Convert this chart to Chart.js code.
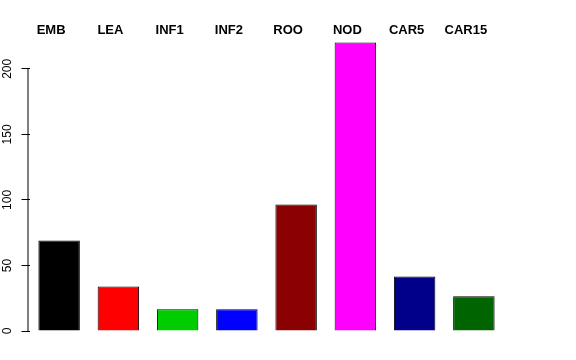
<!DOCTYPE html>
<html>
<head>
<meta charset="utf-8">
<script src="https://cdn.jsdelivr.net/npm/chart.js@4"></script>
<style>
    html, body { margin: 0; padding: 0; background: #fff; }
    #wrap { width: 576px; height: 360px; }
</style>
</head>
<body>
<div id="wrap"><canvas id="barChart"></canvas></div>
<script>
const categories = ["EMB", "LEA", "INF1", "INF2", "ROO", "NOD", "CAR5", "CAR15"];
const values = [69, 34, 16.5, 16.5, 96.5, 220, 41.5, 26.5];
const barColors = ["#000000", "#ff0000", "#00cd00", "#0000ff", "#8b0000", "#ff00ff", "#00008b", "#006400"];
const yTicks = [0, 50, 100, 150, 200];

// R style axis line: only from first to last tick
const axisLine = {
    id: "axisLine",
    afterDraw(chart) {
        const y = chart.scales.y;
        const ctx = chart.ctx;
        ctx.save();
        ctx.strokeStyle = "#000";
        ctx.lineWidth = 1;
        ctx.beginPath();
        ctx.moveTo(28, y.getPixelForValue(yTicks[0]));
        ctx.lineTo(28, y.getPixelForValue(yTicks[yTicks.length - 1]));
        ctx.stroke();
        ctx.restore();
    }
};

const ctx = document.getElementById("barChart").getContext("2d");
const barChart = new Chart(ctx, {
    type: "bar",
    data: {
        labels: categories,
        datasets: [
            {
                data: values,
                backgroundColor: barColors,
                borderColor: "#000",
                borderWidth: 1,
                categoryPercentage: 1,
                barPercentage: 0.7
            }
        ]
    },
    options: {
        responsive: true,
        maintainAspectRatio: false,
        animation: false,
        layout: { padding: { left: 0, right: 72.5, top: 0, bottom: 29 } },
        plugins: {
            legend: { display: false },
            tooltip: { enabled: false }
        },
        scales: {
            x: {
                position: "top",
                grid: { display: false },
                border: { display: false },
                ticks: {
                    color: "#000",
                    font: { family: "Liberation Sans, Arial, sans-serif", size: 13, weight: "bold" },
                    labelOffset: -8,
                    padding: -6,
                    maxRotation: 0,
                    autoSkip: false
                },
                afterFit(scale) { scale.height = 40; }
            },
            y: {
                min: 0,
                max: 222,
                border: { display: false },
                grid: {
                    drawOnChartArea: false,
                    drawTicks: true,
                    tickLength: 8,
                    color: "#000"
                },
                afterBuildTicks(scale) {
                    scale.ticks = yTicks.map(v => ({ value: v }));
                },
                ticks: {
                    color: "#000",
                    font: { family: "Liberation Sans, Arial, sans-serif", size: 12 },
                    minRotation: 90,
                    crossAlign: "center",
                    padding: 4
                },
                afterFit(scale) { scale.width = 29.5; }
            }
        }
    },
    plugins: [axisLine]
});
</script>
</body>
</html>
